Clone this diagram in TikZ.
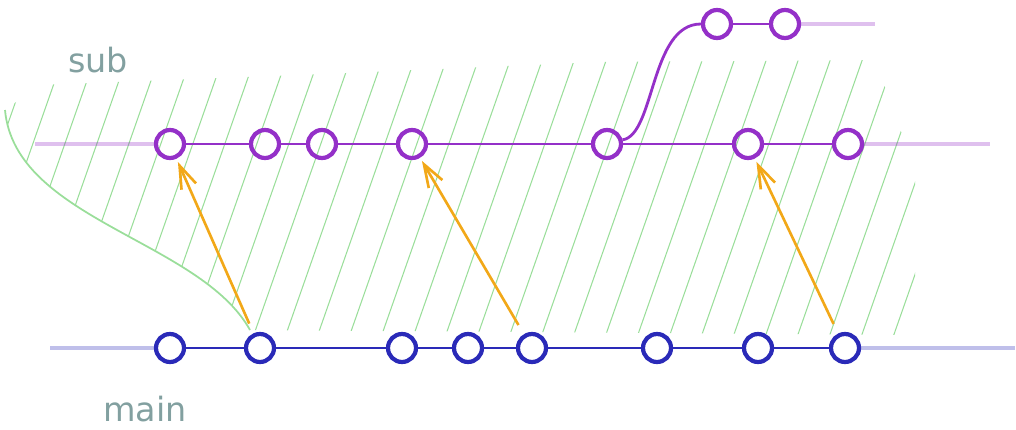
\documentclass[tikz,border=0pt]{standalone}
\usepackage{fontspec}
\setmainfont{DejaVu Sans}
\usetikzlibrary{arrows.meta}
\definecolor{subc}{HTML}{9430C8}
\definecolor{mainc}{HTML}{2A2AB8}
\definecolor{mergec}{HTML}{F2A818}
\definecolor{hatchc}{HTML}{9ADE9A}
\definecolor{labelc}{HTML}{82A0A0}

\begin{document}
\begin{tikzpicture}[x=0.02cm, y=-0.02cm,
      >={Straight Barb[length=13pt, width=9pt]},
      commit/.style={circle, draw=#1, line width=2.4pt,
        minimum size=0.56cm, inner sep=0pt},
      branch/.style={#1, line width=1.6pt},
      tail/.style={#1, line width=2pt, opacity=0.3},
      merge/.style={->, mergec, line width=1.5pt,
        shorten <=6pt, shorten >=2pt},
      hatch/.style={hatchc, line width=0.6pt},
      lbl/.style={labelc, font=\fontsize{19}{22}\selectfont, anchor=base}]
    \useasboundingbox (0,0) rectangle (1016,429);
    % hatched area
    \begin{scope}
      \clip (5,110) .. controls (15,220) and (200,240) .. (250,330)
        -- (915,335) -- (915,170) -- (875,60) -- (600,62)
        -- (300,75) -- (40,85) -- cycle;
      \foreach \x in {-100,-68,...,1000}
        \draw[hatch] (\x,340) -- ++(100,-285);
    \end{scope}
    \draw[hatchc, line width=1pt]
      (5,110) .. controls (15,220) and (200,240) .. (250,330);
    % commits
    \foreach \i/\x in {1/170,2/265,3/322,4/412,5/607,6/748,7/848}
      \node[commit=subc] (s\i) at (\x,144) {};
    \foreach \i/\x in {1/170,2/260,3/402,4/468,5/532,6/657,7/758,8/845}
      \node[commit=mainc] (m\i) at (\x,348) {};
    \foreach \i/\x in {1/717,2/785}
      \node[commit=subc] (b\i) at (\x,24) {};
    \coordinate (sl) at (35,144);
    \coordinate (sr) at (990,144);
    \coordinate (ml) at (50,348);
    \coordinate (mr) at (1015,348);
    \coordinate (br) at (875,24);
    % branch lines
    \foreach \i [count=\j from 2] in {1,...,6}
      \draw[branch=subc] (s\i) -- (s\j);
    \foreach \i [count=\j from 2] in {1,...,7}
      \draw[branch=mainc] (m\i) -- (m\j);
    \draw[branch=subc] (b1) -- (b2);
    \draw[branch=subc] (s5.15) .. controls (655,135) and (650,24) .. (b1.west);
    \draw[tail=subc] (sl) -- (s1.west);
    \draw[tail=subc] (s7.east) -- (sr);
    \draw[tail=mainc] (ml) -- (m1.west);
    \draw[tail=mainc] (m8.east) -- (mr);
    \draw[tail=subc] (b2.east) -- (br);
    % merges
    \draw[merge] (m2) -- (s1);
    \draw[merge] (m5) -- (s4);
    \draw[merge] (m8) -- (s6);
    % labels
    \node[lbl] (sublbl) at (98,72) {sub};
    \node[lbl] (mainlbl) at (145,421) {main};
  \end{tikzpicture}
\end{document}
